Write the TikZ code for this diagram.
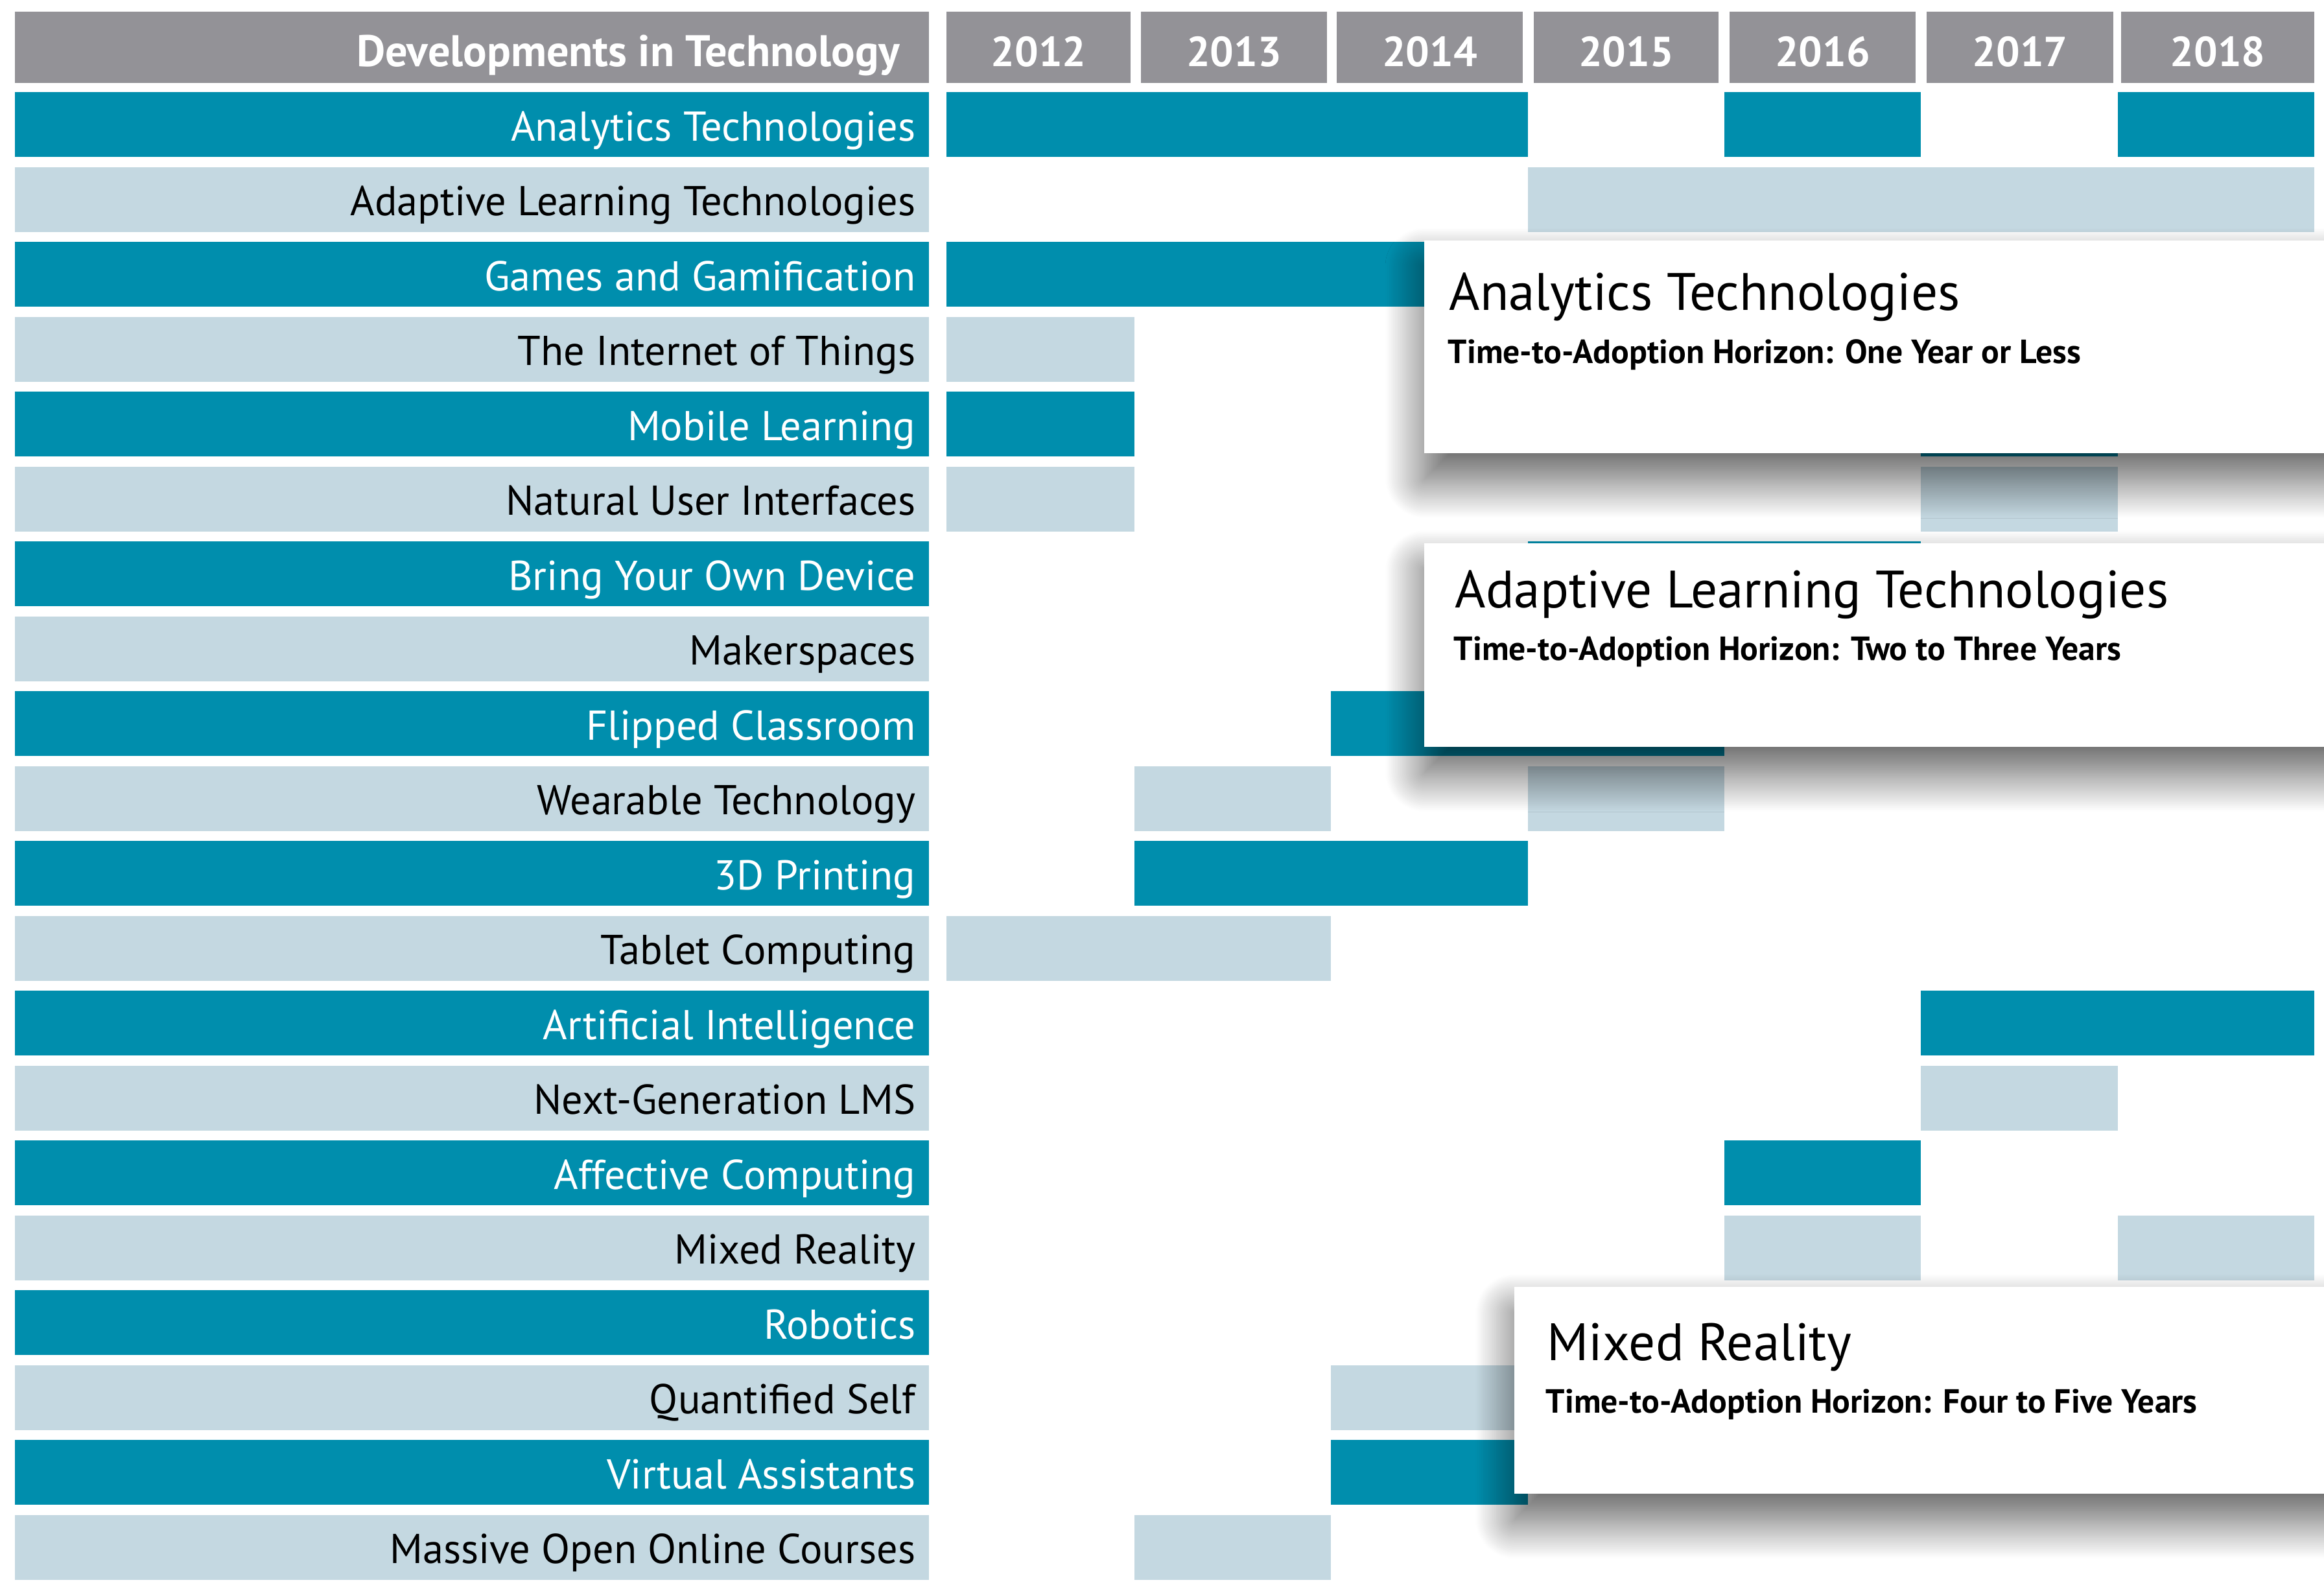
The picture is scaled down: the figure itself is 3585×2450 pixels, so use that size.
\documentclass[tikz,border=0pt]{standalone}
\usepackage{fontspec}
\setmainfont{PT Sans}
\usepackage{tikz}
\usetikzlibrary{shadows.blur}
\definecolor{hrteal}{RGB}{0,142,173}
\definecolor{hrpale}{RGB}{196,216,225}
\definecolor{hrgray}{RGB}{147,146,151}

\tikzset{
  darkbar/.style={fill=hrteal},
  lightbar/.style={fill=hrpale},
  darklabel/.style={anchor=base east, inner sep=0pt, text=white, font=\fontsize{18.3}{20}\selectfont},
  lightlabel/.style={anchor=base east, inner sep=0pt, text=black, font=\fontsize{18.3}{20}\selectfont},
  headlabel/.style={inner sep=0pt, text=white, font=\bfseries\fontsize{19.4}{21}\selectfont},
  yearlabel/.style={inner sep=0pt, text=white, font=\bfseries\fontsize{18.4}{20}\selectfont},
  callout/.style={fill=white, blur shadow={shadow xshift=0cm, shadow yshift=-0.4cm, shadow blur radius=0.6cm, shadow opacity=65, shadow blur steps=40, shadow blur extra rounding=0pt}},
  callouttitle/.style={anchor=base west, inner sep=0pt, font=\fontsize{23.1}{25}\selectfont},
  calloutsub/.style={anchor=base west, inner sep=0pt, font=\bfseries\fontsize{14.7}{16}\selectfont}
}

\begin{document}
\begin{tikzpicture}[x=0.01cm, y=-0.01cm]
	\useasboundingbox (0,0) rectangle (3585,2450);
	\clip (0,0) rectangle (3585,2450);

	% -- Header row --
	\fill[hrgray] (23,18) rectangle (1433,128);
	\node[headlabel, anchor=base east] (head) at (1389,102) {Developments in Technology};
	\foreach \yr/\xa/\xb in {2012/1460/1744, 2013/1760/2047, 2014/2062/2349, 2015/2366/2651,
		2016/2668/2955, 2017/2972/3260, 2018/3272/3570} {
		\fill[hrgray] (\xa,18) rectangle (\xb,128);
		\node[yearlabel, anchor=base] (yr\yr) at ({(\xa+\xb)/2},102) {\yr};
	}

	% -- Topic rows (label column) --
	\foreach \lbl/\kind [count=\i] in {
		Analytics Technologies/dark, Adaptive Learning Technologies/light,
		Games and Gamification/dark, The Internet of Things/light,
		Mobile Learning/dark, Natural User Interfaces/light,
		Bring Your Own Device/dark, Makerspaces/light,
		Flipped Classroom/dark, Wearable Technology/light,
		3D Printing/dark, Tablet Computing/light,
		Artificial Intelligence/dark, Next-Generation LMS/light,
		Affective Computing/dark, Mixed Reality/light,
		Robotics/dark, Quantified Self/light,
		Virtual Assistants/dark, Massive Open Online Courses/light} {
		\pgfmathsetmacro{\rt}{142+(\i-1)*115.5}
		\fill[\kind bar] (23,\rt) rectangle (1433,\rt+100);
		\node[\kind label] (topic\i) at (1413,\rt+75) {\lbl};
	}

	% -- Year bars (row/first/last year index/kind) --
	\foreach \r/\ya/\yb/\kind in {
		1/0/2/dark, 1/4/4/dark, 1/6/6/dark,
		2/3/6/light,
		3/0/2/dark,
		4/0/0/light,
		5/0/0/dark, 5/5/5/dark,
		6/0/0/light, 6/5/5/light,
		7/3/4/dark,
		9/2/3/dark,
		10/1/1/light, 10/3/3/light,
		11/1/2/dark,
		12/0/1/light,
		13/5/6/dark,
		14/5/5/light,
		15/4/4/dark,
		16/4/4/light, 16/6/6/light,
		18/2/2/light,
		19/2/2/dark,
		20/1/1/light} {
		\pgfmathsetmacro{\xa}{{1460,1750,2053,2357,2660,2963,3267,3570}[\ya]}
		\pgfmathsetmacro{\xb}{{1460,1750,2053,2357,2660,2963,3267,3570}[\yb+1]}
		\pgfmathsetmacro{\rt}{142+(\r-1)*115.5}
		\fill[\kind bar] (\xa,\rt) rectangle (\xb,\rt+100);
	}

	% -- Callouts --
	\fill[callout] (2197,371) rectangle (3700,699);
	\node[callouttitle] (at1) at (2235,478) {Analytics Technologies};
	\node[calloutsub] (at2) at (2233,560) {Time-to-Adoption Horizon: One Year or Less};

	\fill[callout] (2197,838) rectangle (3700,1152);
	\node[callouttitle] (al1) at (2244,937) {Adaptive Learning Technologies};
	\node[calloutsub] (al2) at (2242,1018) {Time-to-Adoption Horizon: Two to Three Years};

	\fill[callout] (2336,1985) rectangle (3700,2304);
	\node[callouttitle] (mr1) at (2386,2098) {Mixed Reality};
	\node[calloutsub] (mr2) at (2384,2179) {Time-to-Adoption Horizon: Four to Five Years};
\end{tikzpicture}
\end{document}
